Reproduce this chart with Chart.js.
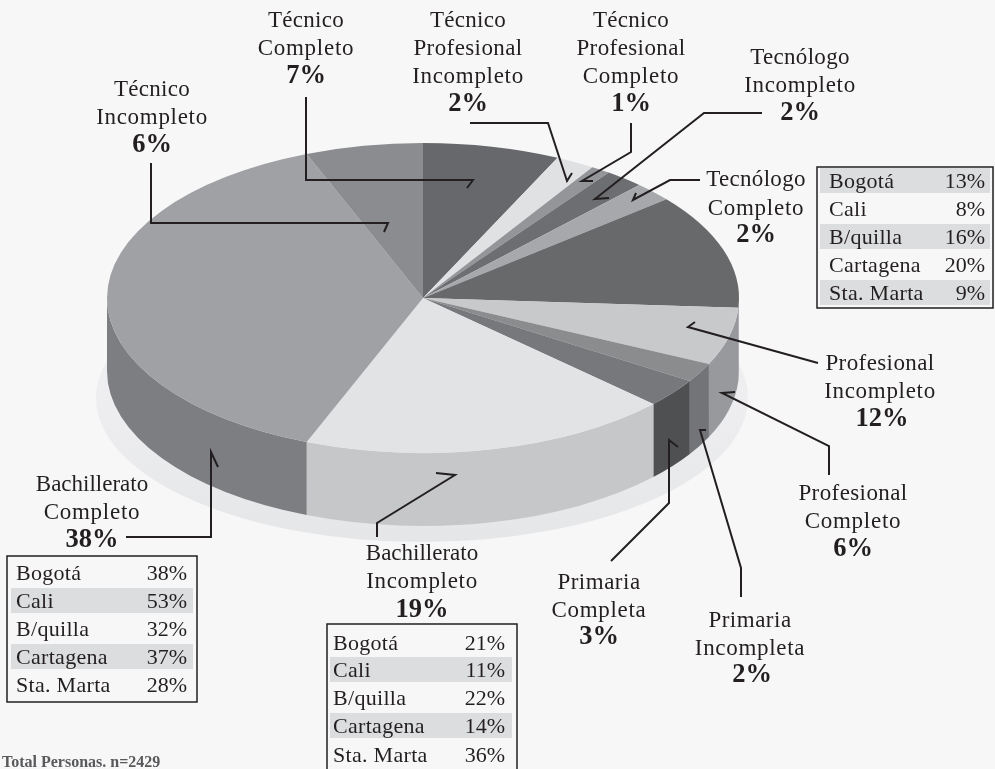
<!DOCTYPE html>
<html>
<head>
<meta charset="utf-8">
<title>Nivel educativo</title>
<script src="https://cdn.jsdelivr.net/npm/chart.js@4"></script>
<style>
    html, body { margin: 0; padding: 0; background: #f7f7f8; overflow: hidden; }
    canvas { display: block; }
</style>
</head>
<body>
<canvas id="pie" width="995" height="769"></canvas>
<script>
// datos del grafico
const categories = [
    "Técnico Completo", "Técnico Profesional Incompleto", "Técnico Profesional Completo",
    "Tecnólogo Incompleto", "Tecnólogo Completo", "Profesional Incompleto", "Profesional Completo",
    "Primaria Incompleta", "Primaria Completa", "Bachillerato Incompleto", "Bachillerato Completo",
    "Técnico Incompleto"
];
const values = [7, 2, 1, 2, 2, 12, 6, 2, 3, 19, 38, 6];

const cities = ["Bogotá", "Cali", "B/quilla", "Cartagena", "Sta. Marta"];
const tecnologoPct = ["13%", "8%", "16%", "20%", "9%"];
const bachCompletoPct = ["38%", "53%", "32%", "37%", "28%"];
const bachIncompletoPct = ["21%", "11%", "22%", "14%", "36%"];

const totalNote = "Total Personas. n=2429";

// colores
const faceColors = ["#67686b", "#e0e1e3", "#949598", "#6d6e71", "#a7a8ab", "#68696b", "#c8c9cb",
    "#8b8c8e", "#77787b", "#e2e3e5", "#a0a1a4", "#8b8c8f"];
const sideColors = ["#555", "#c0c0c0", "#777", "#555", "#888", "#98999c", "#98999c",
    "#737477", "#4f5052", "#c6c7c9", "#7d7e81", "#707174"];
const ink = "#231f20";

// forma de la torta 3D
const pieCy = 298, pieRy = 155, wallDepth = 73;

// ajuste de ancho por palabra, la serif instalada es un poco mas angosta
const tracking = { "Técnico": 0.3, "Tecnólogo": 0.3, "Profesional": 0.4, "Completo": 0.75,
    "Incompleto": 0.7, "Primaria": 0.5, "Completa": 0.7, "Incompleta": 0.7 };

// etiquetas: x centro, lineas de texto y base de cada linea
const labels = [
    { x: 306, lines: ["Técnico", "Completo"], ys: [27, 55], pct: "7%", py: 83 },
    { x: 468, lines: ["Técnico", "Profesional", "Incompleto"], ys: [27, 55, 83], pct: "2%", py: 111 },
    { x: 631, lines: ["Técnico", "Profesional", "Completo"], ys: [27, 55, 83], pct: "1%", py: 111 },
    { x: 800, lines: ["Tecnólogo", "Incompleto"], ys: [64, 92], pct: "2%", py: 120 },
    { x: 756, lines: ["Tecnólogo", "Completo"], ys: [186, 215], pct: "2%", py: 242 },
    { x: 880, lines: ["Profesional", "Incompleto"], ys: [370, 398], pct: "12%", py: 426, px: 882 },
    { x: 853, lines: ["Profesional", "Completo"], ys: [500, 528], pct: "6%", py: 556 },
    { x: 599, lines: ["Primaria", "Completa"], ys: [589, 617], pct: "3%", py: 644 },
    { x: 750, lines: ["Primaria", "Incompleta"], ys: [627, 655], pct: "2%", py: 682, px: 752 },
    { x: 422, lines: ["Bachillerato", "Incompleto"], ys: [560, 588], pct: "19%", py: 617 },
    { x: 92, lines: ["Bachillerato", "Completo"], ys: [491, 519], pct: "38%", py: 547 },
    { x: 152, lines: ["Técnico", "Incompleto"], ys: [96, 124], pct: "6%", py: 152 }
];

// lineas guia (la ultima pareja es la punta)
const leaders = [
    [[306, 97], [306, 180], [473, 180], [467, 188]],
    [[470, 123], [548, 123], [567, 181], [572, 173]],
    [[631, 123], [631, 152], [582, 181], [593, 181]],
    [[762, 113], [704, 113], [595, 199], [609, 198]],
    [[700, 180], [670, 180], [633, 200], [636, 193]],
    [[818, 363], [688, 327], [695, 322]],
    [[829, 475], [829, 446], [722, 393], [735, 392]],
    [[741, 597], [741, 568], [700, 430], [706, 430]],
    [[611, 561], [669, 503], [669, 440], [678, 447]],
    [[377, 537], [377, 523], [455, 475], [436, 473]],
    [[126, 537], [211, 537], [211, 452], [218, 467]],
    [[151, 163], [151, 223], [388, 223], [384, 232]]
];

// cajas de ciudades
const boxes = [
    { pct: tecnologoPct, x0: 817, x1: 993, y0: 167, y1: 308, tx: 829, rx: 985, sx0: 820, sx1: 990,
      base: [188, 216, 244, 272, 300], striped: [0, 2, 4] },
    { pct: bachCompletoPct, x0: 7, x1: 197, y0: 556, y1: 702, tx: 16, rx: 187, sx0: 11, sx1: 193,
      base: [580, 608, 636, 664, 692], striped: [1, 3] },
    { pct: bachIncompletoPct, x0: 327, x1: 517, y0: 624, y1: 772, tx: 333, rx: 505, sx0: 330, sx1: 512,
      base: [650, 677, 705, 733, 762], striped: [1, 3] }
];

// paredes y sombra, y aplastar la torta en elipse
const pie3d = {
    id: "pie3d",
    beforeDatasetsDraw(chart) {
        let ctx = chart.ctx;
        let arcs = chart.getDatasetMeta(0).data;
        let cx = arcs[0].x, cy = arcs[0].y, rx = arcs[0].outerRadius;

        ctx.save();
        let grad = ctx.createLinearGradient(0, 400, 0, 542);
        grad.addColorStop(0, "#eeeef0");
        grad.addColorStop(1, "#e5e6e7");
        ctx.fillStyle = grad;
        ctx.beginPath();
        ctx.ellipse(cx - 1, 398, rx + 10, 144, 0, 0, Math.PI * 2);
        ctx.fill();

        arcs.forEach((arc, i) => {
            let a = Math.max(arc.startAngle, 0);
            let b = Math.min(arc.endAngle, Math.PI);
            if (b <= a) return;
            ctx.fillStyle = sideColors[i];
            ctx.beginPath();
            ctx.ellipse(cx, pieCy, rx, pieRy, 0, a, b);
            ctx.ellipse(cx, pieCy + wallDepth, rx, pieRy, 0, b, a, true);
            ctx.closePath();
            ctx.fill();
        });
        ctx.restore();

        ctx.save();
        ctx.translate(0, pieCy);
        ctx.scale(1, pieRy / rx);
        ctx.translate(0, -cy);
    },
    afterDatasetsDraw(chart) {
        chart.ctx.restore();
    },
    afterDraw(chart) {
        let ctx = chart.ctx;
        ctx.save();
        ctx.fillStyle = ink;
        ctx.strokeStyle = ink;
        ctx.textBaseline = "alphabetic";

        // lineas guia
        ctx.lineWidth = 2;
        ctx.lineJoin = "miter";
        leaders.forEach(pts => {
            ctx.beginPath();
            pts.forEach((p, i) => i ? ctx.lineTo(p[0], p[1]) : ctx.moveTo(p[0], p[1]));
            ctx.stroke();
        });

        // etiquetas
        ctx.textAlign = "center";
        labels.forEach(l => {
            ctx.font = "23px 'Liberation Serif'";
            l.lines.forEach((t, i) => {
                ctx.letterSpacing = (tracking[t] || 0) + "px";
                ctx.fillText(t, l.x, l.ys[i]);
            });
            ctx.letterSpacing = "0px";
            ctx.font = "bold 26.5px 'Liberation Serif'";
            ctx.fillText(l.pct, l.px || l.x, l.py);
        });

        // cajas
        boxes.forEach(b => {
            ctx.fillStyle = "#dcddde";
            b.striped.forEach(i => ctx.fillRect(b.sx0, b.base[i] - 20, b.sx1 - b.sx0, 25));
            ctx.lineWidth = 1.5;
            ctx.strokeRect(b.x0, b.y0, b.x1 - b.x0, b.y1 - b.y0);
            ctx.fillStyle = ink;
            ctx.font = "22px 'Liberation Serif'";
            cities.forEach((c, i) => {
                ctx.textAlign = "left";
                ctx.letterSpacing = "0.3px";
                ctx.fillText(c, b.tx, b.base[i]);
                ctx.textAlign = "right";
                ctx.letterSpacing = "0px";
                ctx.fillText(b.pct[i], b.rx, b.base[i]);
            });
        });

        ctx.textAlign = "left";
        ctx.fillStyle = "#58595b";
        ctx.font = "bold 16px 'Liberation Serif'";
        ctx.fillText(totalNote, 2, 767);
        ctx.restore();
    }
};

new Chart(document.getElementById("pie"), {
    type: "pie",
    data: {
        labels: categories,
        datasets: [{
            data: values,
            backgroundColor: faceColors,
            borderWidth: 0
        }]
    },
    options: {
        responsive: false,
        animation: false,
        layout: { padding: { left: 107, right: 256, top: 0, bottom: 137 } },
        plugins: { legend: { display: false }, tooltip: { enabled: false } }
    },
    plugins: [pie3d]
});
</script>
</body>
</html>
